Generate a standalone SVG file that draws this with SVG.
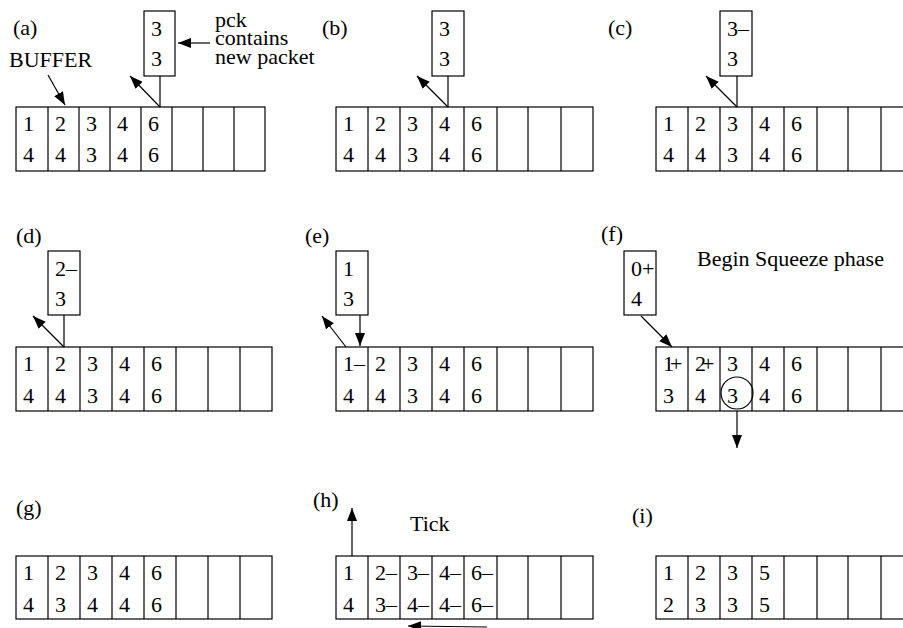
<svg xmlns="http://www.w3.org/2000/svg" width="903" height="628" viewBox="0 0 903 628">
<style>
.b{fill:#fff;stroke:#000;stroke-width:1.2}
.v{fill:none;stroke:#000;stroke-width:1.2}
text{font-family:"Liberation Serif","Times New Roman",serif;font-size:22px;fill:#000}
.c{fill:none;stroke:#000;stroke-width:1.2}
.a{fill:none;stroke:#000;stroke-width:1.2;marker-end:url(#ah)}
</style>
<defs>
<marker id="ah" markerUnits="userSpaceOnUse" markerWidth="14" markerHeight="10" refX="13" refY="5" orient="auto">
<path d="M0,0 L13,5 L0,10 Z" fill="#000"/>
</marker>
</defs>
<rect width="903" height="628" fill="#fff"/>

<g id="panel-a">
<text x="13" y="35">(a)</text>
<text x="9" y="67">BUFFER</text>
<text x="215" y="27">pck</text>
<text x="215" y="45">contains</text>
<text x="215" y="64">new packet</text>
<rect class="b" x="16" y="107" width="249" height="64"/>
<path class="v" d="M48,107V171M79,107V171M110,107V171M141,107V171M172,107V171M203,107V171M234,107V171"/>
<text y="131"><tspan x="23">1</tspan><tspan x="55">2</tspan><tspan x="86">3</tspan><tspan x="117">4</tspan><tspan x="148">6</tspan></text>
<text y="162"><tspan x="23">4</tspan><tspan x="55">4</tspan><tspan x="86">3</tspan><tspan x="117">4</tspan><tspan x="148">6</tspan></text>
<rect class="b" x="144" y="11" width="31" height="65"/>
<text x="151" y="36">3</text><text x="151" y="66">3</text>
</g>

<g id="panel-b">
<text x="322" y="35">(b)</text>
<rect class="b" x="336" y="107" width="257" height="64"/>
<path class="v" d="M368,107V171M400,107V171M432,107V171M464,107V171M497,107V171M528,107V171M561,107V171"/>
<text y="131"><tspan x="343">1</tspan><tspan x="375">2</tspan><tspan x="407">3</tspan><tspan x="439">4</tspan><tspan x="471">6</tspan></text>
<text y="162"><tspan x="343">4</tspan><tspan x="375">4</tspan><tspan x="407">3</tspan><tspan x="439">4</tspan><tspan x="471">6</tspan></text>
<rect class="b" x="432" y="11" width="32" height="65"/>
<text x="439" y="36">3</text><text x="439" y="66">3</text>
</g>

<g id="panel-c">
<text x="608" y="35">(c)</text>
<rect class="b" x="656" y="107" width="257" height="64"/>
<path class="v" d="M688,107V171M720,107V171M752,107V171M784,107V171M817,107V171M848,107V171M881,107V171"/>
<text y="131"><tspan x="663">1</tspan><tspan x="695">2</tspan><tspan x="727">3</tspan><tspan x="759">4</tspan><tspan x="791">6</tspan></text>
<text y="162"><tspan x="663">4</tspan><tspan x="695">4</tspan><tspan x="727">3</tspan><tspan x="759">4</tspan><tspan x="791">6</tspan></text>
<rect class="b" x="720" y="11" width="32" height="65"/>
<text x="727" y="36">3–</text><text x="727" y="66">3</text>
</g>

<g id="panel-d">
<text x="16" y="243">(d)</text>
<rect class="b" x="16" y="347" width="256" height="64"/>
<path class="v" d="M48,347V411M80,347V411M112,347V411M144,347V411M176,347V411M208,347V411M240,347V411"/>
<text y="371"><tspan x="23">1</tspan><tspan x="55">2</tspan><tspan x="87">3</tspan><tspan x="119">4</tspan><tspan x="151">6</tspan></text>
<text y="403"><tspan x="23">4</tspan><tspan x="55">4</tspan><tspan x="87">3</tspan><tspan x="119">4</tspan><tspan x="151">6</tspan></text>
<rect class="b" x="48" y="251" width="32" height="64"/>
<text x="55" y="276">2–</text><text x="55" y="306">3</text>
</g>

<g id="panel-e">
<text x="305" y="243">(e)</text>
<rect class="b" x="336" y="347" width="257" height="64"/>
<path class="v" d="M368,347V411M400,347V411M432,347V411M464,347V411M497,347V411M528,347V411M561,347V411"/>
<text y="371"><tspan x="343">1–</tspan><tspan x="375">2</tspan><tspan x="407">3</tspan><tspan x="439">4</tspan><tspan x="471">6</tspan></text>
<text y="403"><tspan x="343">4</tspan><tspan x="375">4</tspan><tspan x="407">3</tspan><tspan x="439">4</tspan><tspan x="471">6</tspan></text>
<rect class="b" x="336" y="251" width="32" height="64"/>
<text x="343" y="276">1</text><text x="343" y="306">3</text>
</g>

<g id="panel-f">
<text x="601" y="241">(f)</text>
<text x="697" y="266">Begin Squeeze phase</text>
<rect class="b" x="656" y="347" width="257" height="64"/>
<path class="v" d="M688,347V411M720,347V411M752,347V411M784,347V411M817,347V411M848,347V411M881,347V411"/>
<text y="371"><tspan x="663">1</tspan><tspan dx="-4">+</tspan><tspan x="695">2</tspan><tspan dx="-4">+</tspan><tspan x="727">3</tspan><tspan x="759">4</tspan><tspan x="791">6</tspan></text>
<text y="403"><tspan x="663">3</tspan><tspan x="695">4</tspan><tspan x="727">3</tspan><tspan x="759">4</tspan><tspan x="791">6</tspan></text>
<circle class="c" cx="737" cy="393" r="16"/>
<rect class="b" x="624" y="251" width="32" height="64"/>
<text x="631" y="276">0+</text><text x="631" y="306">4</text>
</g>

<g id="panel-g">
<text x="16" y="515">(g)</text>
<rect class="b" x="16" y="556" width="256" height="63"/>
<path class="v" d="M48,556V619M80,556V619M112,556V619M144,556V619M176,556V619M208,556V619M240,556V619"/>
<text y="580"><tspan x="23">1</tspan><tspan x="55">2</tspan><tspan x="87">3</tspan><tspan x="119">4</tspan><tspan x="151">6</tspan></text>
<text y="612"><tspan x="23">4</tspan><tspan x="55">3</tspan><tspan x="87">4</tspan><tspan x="119">4</tspan><tspan x="151">6</tspan></text>
</g>

<g id="panel-h">
<text x="313" y="507">(h)</text>
<text x="410" y="531">Tick</text>
<rect class="b" x="336" y="556" width="257" height="63"/>
<path class="v" d="M368,556V619M400,556V619M432,556V619M464,556V619M497,556V619M528,556V619M561,556V619"/>
<text y="580"><tspan x="343">1</tspan><tspan x="375">2–</tspan><tspan x="407">3–</tspan><tspan x="439">4–</tspan><tspan x="471">6–</tspan></text>
<text y="612"><tspan x="343">4</tspan><tspan x="375">3–</tspan><tspan x="407">4–</tspan><tspan x="439">4–</tspan><tspan x="471">6–</tspan></text>
</g>

<g id="panel-i">
<text x="632" y="523">(i)</text>
<rect class="b" x="656" y="556" width="257" height="63"/>
<path class="v" d="M688,556V619M720,556V619M752,556V619M784,556V619M817,556V619M848,556V619M881,556V619"/>
<text y="580"><tspan x="663">1</tspan><tspan x="695">2</tspan><tspan x="727">3</tspan><tspan x="759">5</tspan></text>
<text y="612"><tspan x="663">2</tspan><tspan x="695">3</tspan><tspan x="727">3</tspan><tspan x="759">5</tspan></text>
</g>

<g id="connectors">
<line class="a" x1="48" y1="75" x2="65" y2="105"/>
<line class="a" x1="210" y1="43" x2="178" y2="43"/>
<line class="c" x1="160" y1="76" x2="160" y2="107"/>
<line class="a" x1="160" y1="107" x2="130" y2="76"/>
<line class="c" x1="448" y1="76" x2="448" y2="107"/>
<line class="a" x1="448" y1="107" x2="417" y2="76"/>
<line class="c" x1="737" y1="76" x2="737" y2="107"/>
<line class="a" x1="737" y1="107" x2="706" y2="76"/>
<line class="c" x1="64" y1="315" x2="64" y2="347"/>
<line class="a" x1="64" y1="347" x2="33" y2="316"/>
<line class="a" x1="360" y1="315" x2="360" y2="346"/>
<line class="a" x1="346" y1="347" x2="322" y2="316"/>
<line class="a" x1="641" y1="316" x2="672" y2="347"/>
<line class="a" x1="737" y1="411" x2="737" y2="448"/>
<line class="a" x1="352" y1="556" x2="352" y2="508"/>
<line class="a" x1="487" y1="627" x2="408" y2="626"/>
</g>
</svg>
